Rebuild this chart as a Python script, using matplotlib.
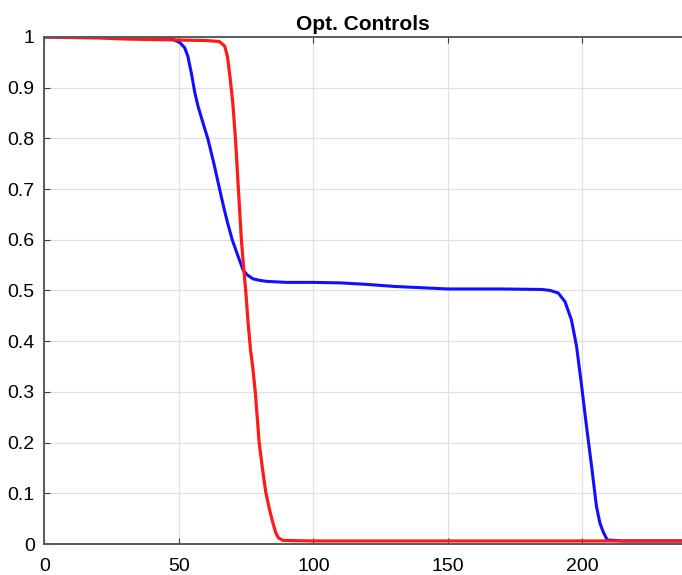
import matplotlib
matplotlib.use("Agg")
import matplotlib.pyplot as plt

# -----------------------
# Data
# -----------------------
red_x = [0, 10, 20, 30, 40, 50, 60, 65, 67, 68, 69, 70, 71, 72.2, 73.2,
         74.1, 74.8, 75.7, 76.6, 77.4, 78.4, 79.8, 81, 82.3, 83.7, 85, 86, 87,
         88.7, 100, 150, 200, 240]
red_y = [1.0, 0.999, 0.998, 0.996, 0.995, 0.994, 0.993, 0.991, 0.982, 0.962,
         0.92, 0.87, 0.80, 0.69, 0.60, 0.541, 0.501, 0.436, 0.383,
         0.35, 0.298, 0.201, 0.15, 0.101, 0.067, 0.04, 0.022, 0.012, 0.007,
         0.006, 0.006, 0.006, 0.006]

blue_x = [0, 20, 40, 46.6, 50.3, 52.1, 53.3, 54.6, 55.9, 57.1, 58.9, 60.8, 63,
          65.1, 66.6, 68, 69.8, 72.0, 73.8, 75.3, 77.5, 80, 82.5, 90, 100, 110,
          120, 130, 150, 170, 185, 188, 191, 193.5, 195.9, 197.8, 199.7, 201.5,
          203.4, 205.2, 206.5, 207.7, 209.2, 215, 240]
blue_y = [1.0, 1.0, 0.999, 0.998, 0.989, 0.979, 0.962, 0.929, 0.890, 0.863,
          0.831, 0.798, 0.75, 0.70, 0.665, 0.635, 0.60, 0.567, 0.541, 0.531,
          0.523, 0.520, 0.518, 0.516, 0.516, 0.515, 0.512, 0.508, 0.503, 0.503,
          0.502, 0.500, 0.495, 0.478, 0.442, 0.390, 0.311, 0.232, 0.153, 0.074,
          0.041, 0.024, 0.008, 0.006, 0.006]

x_ticks = [0, 50, 100, 150, 200]
y_ticks = [0, 0.1, 0.2, 0.3, 0.4, 0.5, 0.6, 0.7, 0.8, 0.9, 1]
title = "Opt. Controls"

# -----------------------
# Plot
# -----------------------
plt.rcParams['font.family'] = ['Liberation Sans', 'DejaVu Sans']

fig = plt.figure(figsize=(6.82, 5.75), dpi=100)
ax = fig.add_axes([0.0652, 0.0539, 0.9348, 0.8818])

ax.plot(blue_x, blue_y, color='#1010ff', linewidth=2.2, solid_capstyle='round')
ax.plot(red_x, red_y, color='#ff1a1a', linewidth=2.3, solid_capstyle='round')

ax.set_xlim(0, 237)
ax.set_ylim(0, 1)
ax.set_xticks(x_ticks)
ax.set_yticks(y_ticks)
ax.set_yticklabels([f"{v:g}" for v in y_ticks])

ax.grid(True, color='#e0e0e0', linewidth=0.9)
ax.set_axisbelow(True)

for side in ['left', 'bottom', 'top']:
    ax.spines[side].set_color('#5a5a5a')
    ax.spines[side].set_linewidth(1.4)
ax.spines['right'].set_visible(False)

ax.tick_params(direction='in', length=4, width=0.8, color='#3a3a3a',
               labelsize=14, labelcolor='black', top=True)
ax.tick_params(axis='x', pad=10)
ax.tick_params(axis='y', pad=7)

ax.set_title(title, fontsize=15, fontweight='bold', pad=5)

fig.savefig("out.png", dpi=100)
plt.close(fig)
